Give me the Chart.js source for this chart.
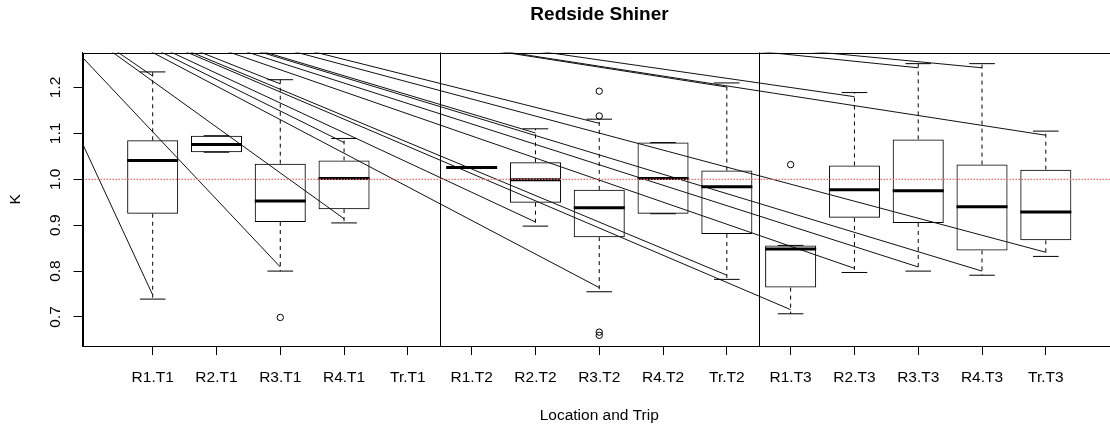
<!DOCTYPE html>
<html>
<head>
<meta charset="utf-8">
<title>Redside Shiner</title>
<script src="https://cdn.jsdelivr.net/npm/chart.js@4.4.1/dist/chart.umd.min.js"></script>
<style>
html, body { margin: 0; padding: 0; overflow: hidden; background: #fff; }
</style>
</head>
<body>
<canvas id="box-chart" width="1199" height="427"></canvas>
<script>
// values
const categories = ["R1.T1","R2.T1","R3.T1","R4.T1","Tr.T1","R1.T2","R2.T2","R3.T2","R4.T2","Tr.T2","R1.T3","R2.T3","R3.T3","R4.T3","Tr.T3"]
const lowerWhisker = [0.739, 1.059, 0.800, 0.905, null, 1.026, 0.898, 0.755, 0.925, 0.782, 0.707, 0.797, 0.800, 0.791, 0.832]
const q1           = [0.925, 1.059, 0.907, 0.935, null, 1.026, 0.949, 0.874, 0.925, 0.881, 0.764, 0.916, 0.905, 0.845, 0.867]
const median       = [1.041, 1.076, 0.953, 1.002, null, 1.026, 0.999, 0.938, 1.002, 0.984, 0.848, 0.977, 0.975, 0.940, 0.929]
const q3           = [1.085, 1.095, 1.034, 1.041, null, 1.026, 1.037, 0.977, 1.080, 1.019, 0.856, 1.030, 1.087, 1.032, 1.021]
const upperWhisker = [1.234, 1.095, 1.217, 1.089, null, 1.026, 1.110, 1.131, 1.080, 1.210, 0.856, 1.189, 1.252, 1.252, 1.105]
const outliers = [[], [], [0.699], [], [], [], [], [1.192, 1.138, 0.667, 0.660], [], [], [1.032], [], [], [], []]

const yTicks = [0.7, 0.8, 0.9, 1.0, 1.1, 1.2]
const yTickLabels = ["0.7", "0.8", "0.9", "1.0", "1.1", "1.2"]
const refLevel = 1.0
const tripBreaks = [5.5, 10.5]

const FONT = "'Liberation Sans', Arial, Helvetica, sans-serif"
// the original picture has stray segments running from one point off the plot to every whisker end
const STRAY_ORIGIN = {x: -1.332, y: 1.447}
const STRAY_GAP = 0.009

Chart.defaults.color = "#000"
Chart.defaults.font.family = FONT

const xs = categories.map((c, i) => i + 1)

const boxData = []
const medianData = []
const capData = []
const whiskerData = []
const strayData = []
const outlierData = []

xs.forEach((x, i) => {
    if (median[i] == null) return
    boxData.push({x: x, y: [q1[i], q3[i]]})
    medianData.push({x: x, y: median[i]})
    capData.push({x: x, y: upperWhisker[i]}, {x: x, y: lowerWhisker[i]})
    if (upperWhisker[i] > q3[i]) {
        whiskerData.push({x: x, y: q3[i]}, {x: x, y: upperWhisker[i]}, {x: x, y: null})
        strayData.push({...STRAY_ORIGIN}, {x: x, y: upperWhisker[i] - STRAY_GAP}, {x: x, y: null})
    }
    if (lowerWhisker[i] < q1[i]) {
        whiskerData.push({x: x, y: q1[i]}, {x: x, y: lowerWhisker[i]}, {x: x, y: null})
        strayData.push({...STRAY_ORIGIN}, {x: x, y: lowerWhisker[i] + STRAY_GAP}, {x: x, y: null})
    }
    outliers[i].forEach(v => outlierData.push({x: x, y: v}))
})

// trip separators, frame and rotated y labels
const extras = {
    id: "extras",
    beforeDatasetsDraw(chart) {
        const {ctx, chartArea: a, scales} = chart
        ctx.save()
        ctx.lineWidth = 1
        ctx.strokeStyle = "#000"
        tripBreaks.forEach(b => {
            const px = Math.round(scales.x.getPixelForValue(b)) + 0.5
            ctx.beginPath()
            ctx.moveTo(px, a.top)
            ctx.lineTo(px, a.bottom)
            ctx.stroke()
        })
        ctx.restore()
    },
    afterDraw(chart) {
        const {ctx, chartArea: a, scales} = chart
        ctx.save()
        ctx.strokeStyle = "#000"
        ctx.lineWidth = 1
        ctx.strokeRect(Math.round(a.left) + 0.5, Math.round(a.top) + 0.5,
            Math.round(a.right - a.left), Math.round(a.bottom - a.top) - 1)
        ctx.fillStyle = "#000"
        ctx.font = "15.5px " + FONT
        ctx.textAlign = "center"
        ctx.textBaseline = "middle"
        yTicks.forEach((v, i) => {
            ctx.save()
            ctx.translate(55.5, scales.y.getPixelForValue(v))
            ctx.rotate(-Math.PI / 2)
            ctx.fillText(yTickLabels[i], 0, 0)
            ctx.restore()
        })
        ctx.restore()
    }
}

const ctx = document.querySelector("#box-chart")

const myChart = new Chart(ctx, {
    type: "bar",
    data: {
        datasets: [
            {
                type: "line",
                label: "reference",
                data: [{x: -0.1, y: refLevel}, {x: 16.1, y: refLevel}],
                borderColor: "#ff6a6a",
                borderWidth: 1.3,
                borderDash: [1.5, 1.5],
                pointRadius: 0,
                fill: false
            },
            {
                type: "scatter",
                label: "outliers",
                data: outlierData,
                pointStyle: "circle",
                pointRadius: 3.2,
                borderWidth: 1,
                borderColor: "#000",
                backgroundColor: "rgba(0,0,0,0)"
            },
            {
                type: "scatter",
                label: "median",
                data: medianData,
                pointStyle: "line",
                pointRadius: 25.5,
                borderWidth: 3,
                borderColor: "#000"
            },
            {
                type: "scatter",
                label: "caps",
                data: capData,
                pointStyle: "line",
                pointRadius: 12.8,
                borderWidth: 1,
                borderColor: "#000"
            },
            {
                type: "line",
                label: "whiskers",
                data: whiskerData,
                borderColor: "#000",
                borderWidth: 1,
                borderDash: [4, 4],
                pointRadius: 0,
                tension: 0,
                spanGaps: false,
                fill: false
            },
            {
                type: "line",
                label: "stray",
                data: strayData,
                borderColor: "#111",
                borderWidth: 1,
                pointRadius: 0,
                tension: 0,
                spanGaps: false,
                fill: false
            },
            {
                type: "bar",
                label: "box",
                data: boxData,
                backgroundColor: "rgba(0,0,0,0)",
                borderColor: "#000",
                borderWidth: 1,
                borderSkipped: false,
                inflateAmount: 0,
                categoryPercentage: 1,
                barPercentage: 0.8
            }
        ]
    },
    options: {
        animation: false,
        responsive: false,
        devicePixelRatio: 1,
        events: [],
        layout: { padding: 0 },
        plugins: {
            legend: { display: false },
            tooltip: { enabled: false },
            title: {
                display: true,
                text: "Redside Shiner",
                color: "#000",
                font: { size: 19, weight: "bold" },
                padding: { top: 3.6, bottom: 26.1 }
            }
        },
        scales: {
            x: {
                type: "linear",
                min: -0.1,
                max: 16.1,
                offset: false,
                afterBuildTicks: s => { s.ticks = xs.map(v => ({value: v})) },
                afterFit: s => { s.height = 81 },
                ticks: {
                    autoSkip: false,
                    maxRotation: 0,
                    minRotation: 0,
                    padding: 13,
                    font: { size: 15.5 },
                    callback: v => categories[v - 1]
                },
                grid: { offset: false, drawOnChartArea: false, drawTicks: true, tickLength: 9, color: "#000" },
                border: { display: true, color: "#000" },
                title: {
                    display: true,
                    text: "Location and Trip",
                    font: { size: 15.5 },
                    padding: { top: 0, bottom: 1.7 }
                }
            },
            y: {
                type: "linear",
                min: 0.6368,
                max: 1.2763,
                afterBuildTicks: s => { s.ticks = yTicks.map(v => ({value: v})) },
                afterFit: s => { s.width = 82.5 },
                ticks: { display: false },
                grid: { drawOnChartArea: false, drawTicks: true, tickLength: 9, color: "#000" },
                border: { display: true, color: "#000" },
                title: {
                    display: true,
                    text: "K",
                    font: { size: 15.5 },
                    padding: { top: 6.7, bottom: 0 }
                }
            },
            pad: {
                type: "linear",
                position: "right",
                min: 0,
                max: 1,
                afterFit: s => { s.width = 83 },
                ticks: { display: false },
                grid: { display: false },
                border: { display: false }
            }
        }
    },
    plugins: [extras]
})
</script>
</body>
</html>
